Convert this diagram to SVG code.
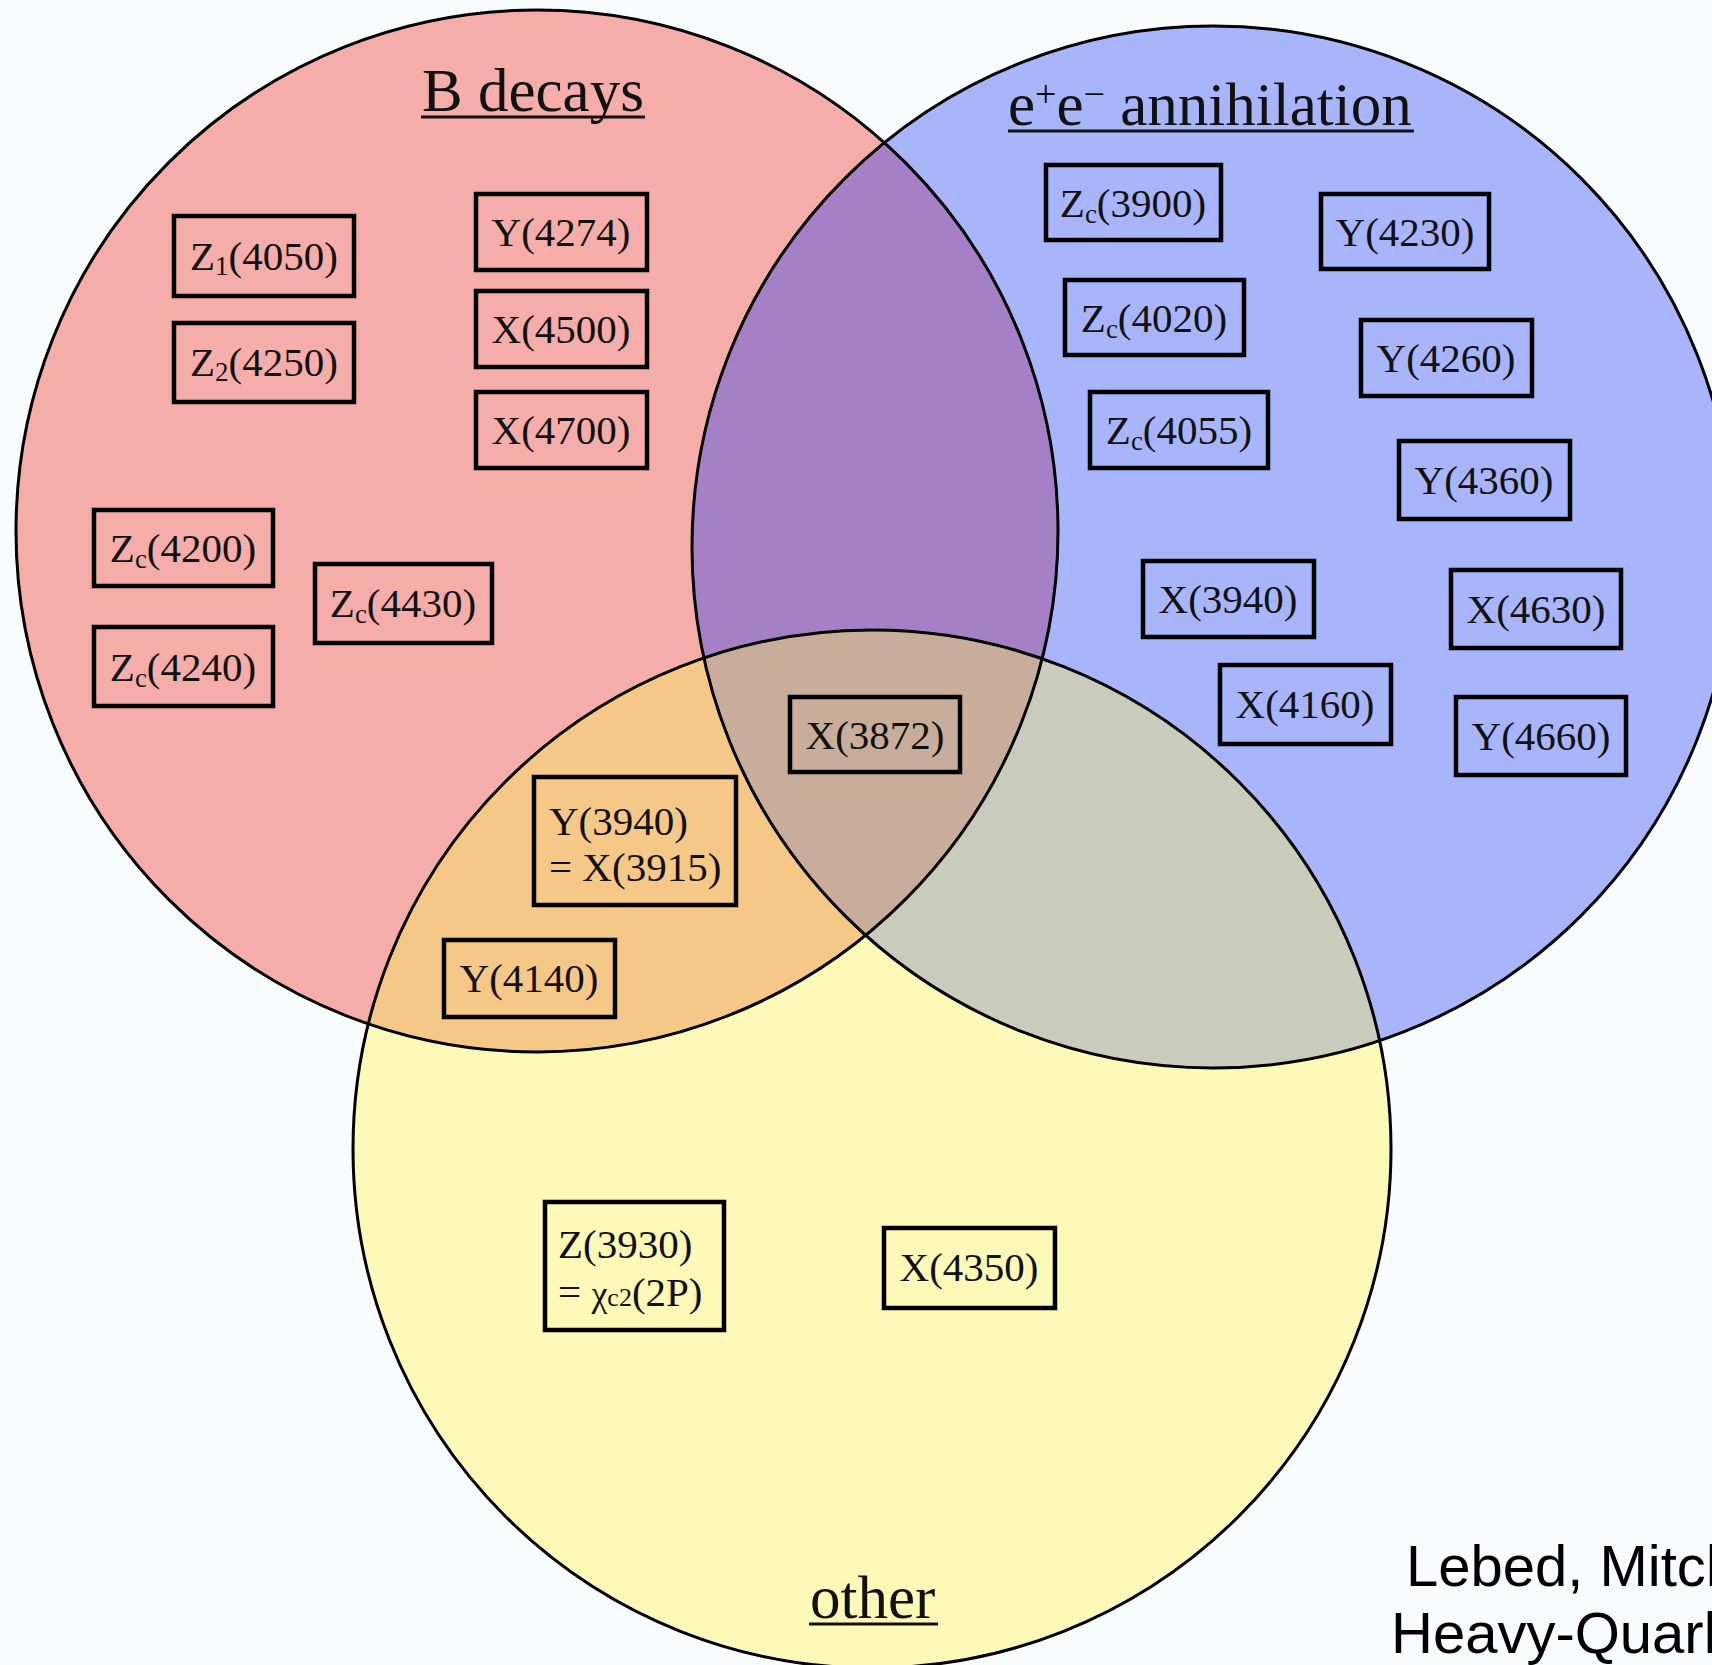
<svg xmlns="http://www.w3.org/2000/svg" width="1712" height="1665" viewBox="0 0 1712 1665">
<style>
.ring{fill:none;stroke:#000;stroke-width:3}
.box{fill:none;stroke:#000;stroke-width:4.5}
.lbl{font-family:"Liberation Serif","Times New Roman",serif;font-size:41px;fill:#111}
.ttl{font-family:"Liberation Serif","Times New Roman",serif;font-size:61px;fill:#111}
.ul{stroke:#111;stroke-width:3}
.sub{font-size:27px}
.sup{font-size:38px}
.credit{font-family:"Liberation Sans",Arial,sans-serif;font-size:58px;fill:#000}
</style>
<defs>
<clipPath id="cR"><circle cx="537" cy="531" r="521"/></clipPath>
<clipPath id="cB"><circle cx="1213" cy="547" r="521"/></clipPath>
</defs>
<rect width="1712" height="1665" fill="#F8FCFC"/>
<g id="regions">
<circle cx="537" cy="531" r="521" fill="#F5ADA9"/>
<circle cx="1213" cy="547" r="521" fill="#A9B5FB"/>
<circle cx="872" cy="1149" r="519" fill="#FCF8B8"/>
<g clip-path="url(#cR)">
<circle cx="1213" cy="547" r="521" fill="#A680C6"/>
<circle cx="872" cy="1149" r="519" fill="#F6C887"/>
</g>
<g clip-path="url(#cB)">
<circle cx="872" cy="1149" r="519" fill="#C9CCBC"/>
</g>
<g clip-path="url(#cR)"><g clip-path="url(#cB)">
<circle cx="872" cy="1149" r="519" fill="#C8AE9A"/>
</g></g>
<circle class="ring" cx="537" cy="531" r="521"/>
<circle class="ring" cx="1213" cy="547" r="521"/>
<circle class="ring" cx="872" cy="1149" r="519"/>
</g>
<g id="titles">
<text class="ttl" x="422" y="111">B decays</text>
<line class="ul" x1="421" y1="117" x2="645" y2="117"/>
<text class="ttl" x="1008" y="125">e<tspan class="sup" dy="-18">+</tspan><tspan dy="18">e</tspan><tspan class="sup" dy="-18">−</tspan><tspan dy="18"> annihilation</tspan></text>
<line class="ul" x1="1008" y1="131" x2="1414" y2="131"/>
<text class="ttl" x="810" y="1618">other</text>
<line class="ul" x1="809" y1="1624" x2="938" y2="1624"/>
</g>
<g id="connectors"></g>
<g id="n-Z1-4050"><rect class="box" x="174" y="216" width="180" height="80"/><text class="lbl" x="264" y="270" text-anchor="middle">Z<tspan class="sub" dy="5">1</tspan><tspan dy="-5">(4050)</tspan></text></g>
<g id="n-Z2-4250"><rect class="box" x="174" y="323" width="180" height="79"/><text class="lbl" x="264" y="376" text-anchor="middle">Z<tspan class="sub" dy="5">2</tspan><tspan dy="-5">(4250)</tspan></text></g>
<g id="n-Y4274"><rect class="box" x="476" y="194" width="171" height="76"/><text class="lbl" x="561" y="246" text-anchor="middle">Y(4274)</text></g>
<g id="n-X4500"><rect class="box" x="476" y="291" width="171" height="76"/><text class="lbl" x="561" y="343" text-anchor="middle">X(4500)</text></g>
<g id="n-X4700"><rect class="box" x="476" y="392" width="171" height="76"/><text class="lbl" x="561" y="444" text-anchor="middle">X(4700)</text></g>
<g id="n-Zc4200"><rect class="box" x="94" y="510" width="179" height="76"/><text class="lbl" x="183" y="562" text-anchor="middle">Z<tspan class="sub" dy="6">c</tspan><tspan dy="-6">(4200)</tspan></text></g>
<g id="n-Zc4430"><rect class="box" x="315" y="564" width="177" height="79"/><text class="lbl" x="403" y="617" text-anchor="middle">Z<tspan class="sub" dy="6">c</tspan><tspan dy="-6">(4430)</tspan></text></g>
<g id="n-Zc4240"><rect class="box" x="94" y="627" width="179" height="79"/><text class="lbl" x="183" y="681" text-anchor="middle">Z<tspan class="sub" dy="6">c</tspan><tspan dy="-6">(4240)</tspan></text></g>
<g id="n-Y3940"><rect class="box" x="534" y="777" width="202" height="128"/><text class="lbl" x="549" y="835">Y(3940)</text><text class="lbl" x="549" y="881">= X(3915)</text></g>
<g id="n-Y4140"><rect class="box" x="444" y="940" width="171" height="77"/><text class="lbl" x="529" y="992" text-anchor="middle">Y(4140)</text></g>
<g id="n-X3872"><rect class="box" x="790" y="697" width="170" height="75"/><text class="lbl" x="875" y="749" text-anchor="middle">X(3872)</text></g>
<g id="n-Zc3900"><rect class="box" x="1046" y="165" width="175" height="75"/><text class="lbl" x="1133" y="217" text-anchor="middle">Z<tspan class="sub" dy="6">c</tspan><tspan dy="-6">(3900)</tspan></text></g>
<g id="n-Y4230"><rect class="box" x="1321" y="194" width="168" height="75"/><text class="lbl" x="1405" y="246" text-anchor="middle">Y(4230)</text></g>
<g id="n-Zc4020"><rect class="box" x="1065" y="280" width="179" height="75"/><text class="lbl" x="1154" y="332" text-anchor="middle">Z<tspan class="sub" dy="6">c</tspan><tspan dy="-6">(4020)</tspan></text></g>
<g id="n-Y4260"><rect class="box" x="1361" y="320" width="171" height="76"/><text class="lbl" x="1446" y="372" text-anchor="middle">Y(4260)</text></g>
<g id="n-Zc4055"><rect class="box" x="1090" y="392" width="178" height="76"/><text class="lbl" x="1179" y="444" text-anchor="middle">Z<tspan class="sub" dy="6">c</tspan><tspan dy="-6">(4055)</tspan></text></g>
<g id="n-Y4360"><rect class="box" x="1399" y="441" width="171" height="78"/><text class="lbl" x="1484" y="494" text-anchor="middle">Y(4360)</text></g>
<g id="n-X3940"><rect class="box" x="1143" y="561" width="171" height="76"/><text class="lbl" x="1228" y="613" text-anchor="middle">X(3940)</text></g>
<g id="n-X4630"><rect class="box" x="1451" y="570" width="170" height="78"/><text class="lbl" x="1536" y="623" text-anchor="middle">X(4630)</text></g>
<g id="n-X4160"><rect class="box" x="1220" y="665" width="171" height="79"/><text class="lbl" x="1305" y="718" text-anchor="middle">X(4160)</text></g>
<g id="n-Y4660"><rect class="box" x="1456" y="697" width="170" height="78"/><text class="lbl" x="1541" y="750" text-anchor="middle">Y(4660)</text></g>
<g id="n-Z3930"><rect class="box" x="545" y="1202" width="179" height="128"/><text class="lbl" x="558" y="1258">Z(3930)</text><text class="lbl" x="558" y="1306">= <tspan font-size="36">χ</tspan><tspan font-size="26">c2</tspan>(2P)</text></g>
<g id="n-X4350"><rect class="box" x="884" y="1228" width="171" height="80"/><text class="lbl" x="969" y="1281" text-anchor="middle">X(4350)</text></g>
<g id="credit">
<text class="credit" x="1406" y="1586">Lebed, Mitch</text>
<text class="credit" x="1391" y="1653">Heavy-Quark</text>
</g>
</svg>
